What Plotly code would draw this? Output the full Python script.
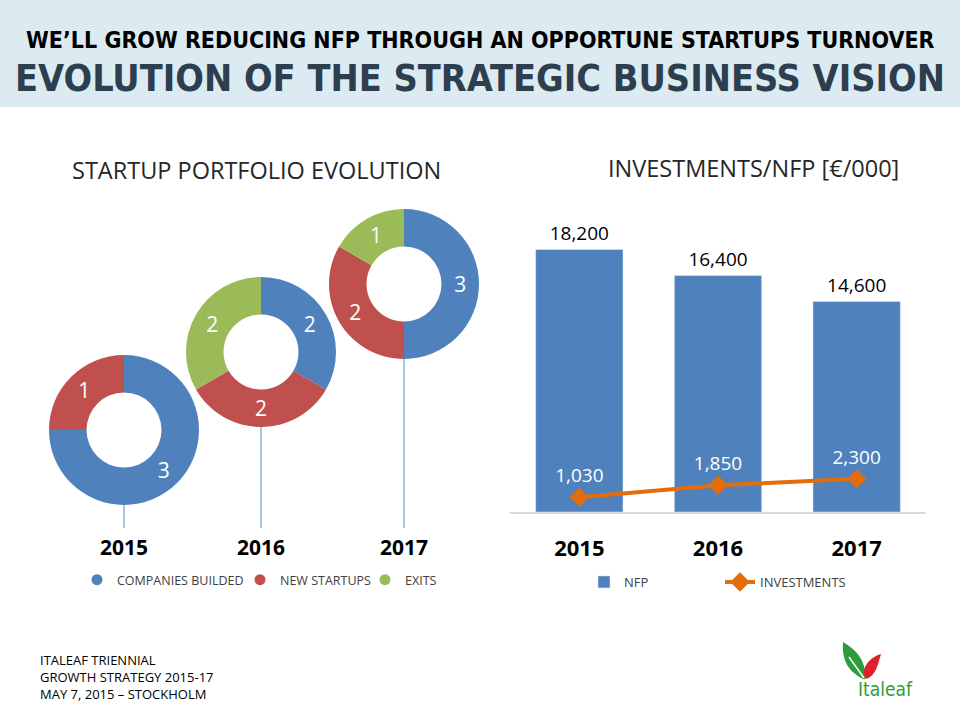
import plotly.graph_objects as go

W, H = 960, 702

# ---------------- data ----------------
YEARS = ["2015", "2016", "2017"]
CATEGORIES = ["COMPANIES BUILDED", "NEW STARTUPS", "EXITS"]
PORTFOLIO_2015 = [3, 1, 0]
PORTFOLIO_2016 = [2, 2, 2]
PORTFOLIO_2017 = [3, 2, 1]
NFP = [18200, 16400, 14600]
INVESTMENTS = [1030, 1850, 2300]

TITLE_1 = "WE\u2019LL GROW REDUCING NFP THROUGH AN OPPORTUNE STARTUPS TURNOVER"
TITLE_2 = "EVOLUTION OF THE STRATEGIC BUSINESS VISION"
SUB_LEFT = "STARTUP PORTFOLIO EVOLUTION"
SUB_RIGHT = "INVESTMENTS/NFP [\u20ac/000]"
FOOTER = ["ITALEAF TRIENNIAL", "GROWTH STRATEGY 2015-17", "MAY 7, 2015 \u2013 STOCKHOLM"]

# ---------------- style ----------------
BLUE = "#4f81bd"
RED = "#c0504d"
GREEN = "#9bbb59"
ORANGE = "#e46c0a"
SLICE_COLORS = [BLUE, RED, GREEN]
LEGEND_WIDTHS = [118, 80, 40]
HEAD = "Liberation Sans Narrow, DejaVu Sans Condensed, Roboto Condensed, sans-serif"
BODY = "Open Sans, Noto Sans, sans-serif"


def px(x):
    return x / W


def py(y):
    return 1 - y / H


# donut layout (pixel centres, radius)
DONUT_CENTERS = [(124, 430), (261, 352), (404, 284)]
R = 75
BASE_Y = 528

fig = go.Figure()

portfolios = [PORTFOLIO_2015, PORTFOLIO_2016, PORTFOLIO_2017]
for year, vals, (cx, cy) in zip(YEARS, portfolios, DONUT_CENTERS):
    fig.add_trace(go.Pie(
        labels=CATEGORIES, values=vals,
        text=[str(v) if v else "" for v in vals],
        textinfo="text", textposition="inside",
        insidetextorientation="horizontal",
        textfont=dict(color="white", size=21, family=BODY),
        hole=0.5, sort=False, direction="clockwise", rotation=0,
        marker=dict(colors=SLICE_COLORS, line=dict(width=0)),
        domain=dict(x=[px(cx - R), px(cx + R)], y=[py(cy + R), py(cy - R)]),
        showlegend=False, name=year, hoverinfo="label+value",
    ))

# bars + line
fig.add_trace(go.Bar(
    x=YEARS, y=NFP, name="NFP", marker_color=BLUE,
    text=NFP, texttemplate="%{y:,.0f}", textposition="outside",
    textfont=dict(color="black", size=19, family=BODY),
    cliponaxis=False, legend="legend2",
))
fig.add_trace(go.Scatter(
    x=YEARS, y=INVESTMENTS, name="INVESTMENTS", mode="lines+markers+text",
    line=dict(color=ORANGE, width=4),
    marker=dict(symbol="diamond", size=15, color=ORANGE),
    texttemplate="%{y:,.0f}", textposition="top center",
    textfont=dict(color="white", size=19, family=BODY),
    cliponaxis=False, legend="legend2",
))

# legend entries for the donuts
for name, col, lw in zip(CATEGORIES, SLICE_COLORS, LEGEND_WIDTHS):
    fig.add_trace(go.Scatter(
        x=[None], y=[None], mode="markers", name=name,
        marker=dict(symbol="circle", size=11, color=col),
        legend="legend", legendwidth=lw, hoverinfo="skip",
    ))

shapes = [
    dict(type="rect", xref="paper", yref="paper", x0=0, x1=1, y0=py(107), y1=1,
         fillcolor="#dcebf1", line=dict(width=0), layer="below"),
]
for (cx, cy) in DONUT_CENTERS:
    shapes.append(dict(type="line", xref="paper", yref="paper",
                       x0=px(cx), x1=px(cx), y0=py(cy + R), y1=py(BASE_Y),
                       line=dict(color="#5b87c5", width=1)))


def P(x, y):
    return f"{px(x):.5f},{py(y):.5f}"


# logo (decorative)
green_leaf = (f"M {P(843, 642)} C {P(856, 650)} {P(864, 658)} {P(866, 676)} "
              f"C {P(866, 679)} {P(864, 680)} {P(863, 679)} "
              f"C {P(846, 670)} {P(842, 658)} {P(843, 642)} Z")
red_leaf = (f"M {P(881, 654)} C {P(868, 658)} {P(860, 670)} {P(866, 679)} "
            f"C {P(876, 676)} {P(878, 664)} {P(881, 654)} Z")
vein = f"M {P(849, 657)} L {P(864, 678)}"
shapes += [
    dict(type="path", xref="paper", yref="paper", path=green_leaf,
         fillcolor="#2e9b3e", line=dict(width=0)),
    dict(type="path", xref="paper", yref="paper", path=red_leaf,
         fillcolor="#e0202a", line=dict(width=0)),
    dict(type="path", xref="paper", yref="paper", path=vein,
         line=dict(color="white", width=1.5)),
]


def ann(text, x, y, size, color="black", family=BODY, xanchor="center", **kw):
    return dict(text=text, x=px(x), y=py(y), xref="paper", yref="paper",
                xanchor=xanchor, yanchor=kw.pop("yanchor", "middle"),
                showarrow=False, font=dict(family=family, size=size, color=color), **kw)


annotations = [
    ann(f"<b>{TITLE_1}</b>", 480, 40, 23, family=HEAD),
    ann(f"<b>{TITLE_2}</b>", 480, 78, 37.5, color="#2d3e4e", family=HEAD),
    ann(SUB_LEFT, 256, 170, 23.5, color="#262626"),
    ann(SUB_RIGHT, 753, 168, 23.5, color="#262626"),
    ann("<br>".join(FOOTER), 38, 649, 13, xanchor="left", yanchor="top", align="left"),
    ann("Italeaf", 885, 689, 19, color="#2e9b3e", family=HEAD),
]
for year, (cx, cy) in zip(YEARS, DONUT_CENTERS):
    annotations.append(ann(f"<b>{year}</b>", cx, 547, 21))

fig.update_layout(
    width=W, height=H, margin=dict(l=0, r=0, t=0, b=0),
    paper_bgcolor="white", plot_bgcolor="white",
    bargap=0.37,
    xaxis=dict(domain=[px(510), px(926)], type="category", range=[-0.5, 2.5],
               showline=True, linecolor="#d9d9d9", linewidth=2, showgrid=False,
               ticks="", ticklabelstandoff=16,
               tickfont=dict(family=BODY, size=22, color="black", weight="bold")),
    yaxis=dict(domain=[py(512), py(223.5)], range=[0, 20000], visible=False),
    shapes=shapes, annotations=annotations,
    legend=dict(orientation="h", x=px(77), y=py(580), xanchor="left", yanchor="middle",
                font=dict(family=BODY, size=12.5, color="#404040"),
                bgcolor="rgba(0,0,0,0)", traceorder="normal"),
    legend2=dict(orientation="h", x=px(584), y=py(582), xanchor="left", yanchor="middle",
                 font=dict(family=BODY, size=13, color="#404040"),
                 bgcolor="rgba(0,0,0,0)", entrywidth=91),
)

fig.write_html("out.html", config={"displayModeBar": False},
               post_script="document.body.style.margin='0';document.body.style.overflow='hidden';")
